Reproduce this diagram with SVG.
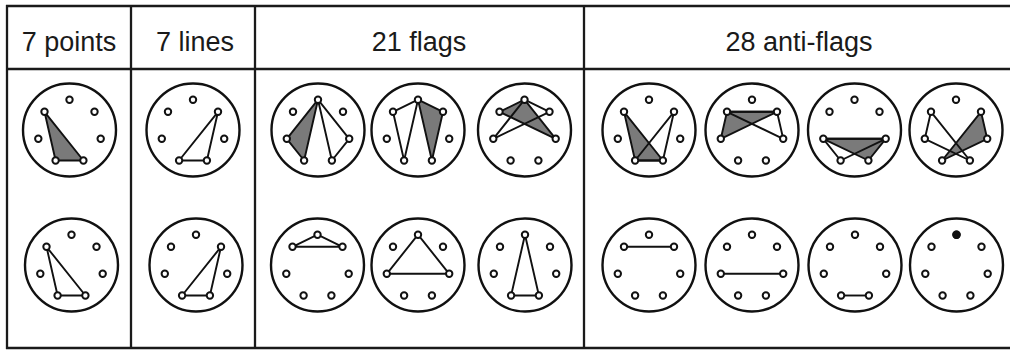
<svg xmlns="http://www.w3.org/2000/svg" xmlns:xlink="http://www.w3.org/1999/xlink" width="1010" height="350" viewBox="0 0 1010 350">
<style>
.grid{stroke:#1a1a1a;stroke-width:2.3;fill:none}
.hdr{font-family:"Liberation Sans",Arial,sans-serif;font-size:27px;fill:#1a1a1a;text-anchor:middle}
.ring{fill:#fff;stroke:#111;stroke-width:2.4}
.dot{fill:#fff;stroke:#111;stroke-width:2}
.tri{fill:none;stroke:#111;stroke-width:1.9;stroke-linejoin:round}
.gray{fill:#7a7a7a;stroke:#111;stroke-width:1.9;stroke-linejoin:round}
</style>
<defs>
<circle id="ring" class="ring" cx="0" cy="0" r="46.5"/>
<g id="dots">
<circle class="dot" cx="0" cy="-30.3" r="3.2"/>
<circle class="dot" cx="25" cy="-18.2" r="3.2"/>
<circle class="dot" cx="31.2" cy="8.8" r="3.2"/>
<circle class="dot" cx="13.9" cy="30.5" r="3.2"/>
<circle class="dot" cx="-13.9" cy="30.5" r="3.2"/>
<circle class="dot" cx="-31.2" cy="8.8" r="3.2"/>
<circle class="dot" cx="-25" cy="-18.2" r="3.2"/>
</g>
</defs>
<rect width="1010" height="350" fill="#fff"/>
<g id="grid" class="grid">
<line x1="6" y1="6" x2="1010" y2="6"/>
<line x1="6" y1="69" x2="1010" y2="69"/>
<line x1="6" y1="348" x2="1010" y2="348"/>
<line x1="7" y1="5" x2="7" y2="349"/>
<line x1="131" y1="5" x2="131" y2="349"/>
<line x1="255" y1="5" x2="255" y2="349"/>
<line x1="584" y1="5" x2="584" y2="349"/>
</g>
<g id="headers">
<text class="hdr" x="69" y="51">7 points</text>
<text class="hdr" x="195" y="51">7 lines</text>
<text class="hdr" x="419" y="51">21 flags</text>
<text class="hdr" x="799" y="51">28 anti-flags</text>
</g>
<g id="connectors"></g>
<g id="point-1" transform="translate(69.5,130)">
<use xlink:href="#ring"/>
<polygon class="gray" points="-25,-18.2 -13.9,30.5 13.9,30.5"/>
<use xlink:href="#dots"/>
</g>
<g id="point-2" transform="translate(71.5,265)">
<use xlink:href="#ring"/>
<polygon class="tri" points="-25,-18.2 -13.9,30.5 13.9,30.5"/>
<use xlink:href="#dots"/>
</g>
<g id="line-1" transform="translate(193,130)">
<use xlink:href="#ring"/>
<polygon class="tri" points="25,-18.2 -13.9,30.5 13.9,30.5"/>
<use xlink:href="#dots"/>
</g>
<g id="line-2" transform="translate(196,265)">
<use xlink:href="#ring"/>
<polygon class="tri" points="25,-18.2 -13.9,30.5 13.9,30.5"/>
<use xlink:href="#dots"/>
</g>
<g id="flag-1" transform="translate(318,130)">
<use xlink:href="#ring"/>
<polygon class="gray" points="0,-30.3 -31.2,8.8 -13.9,30.5"/>
<polygon class="tri" points="0,-30.3 31.2,8.8 13.9,30.5"/>
<use xlink:href="#dots"/>
</g>
<g id="flag-2" transform="translate(418,130)">
<use xlink:href="#ring"/>
<polygon class="gray" points="0,-30.3 25,-18.2 13.9,30.5"/>
<polygon class="tri" points="-25,-18.2 0,-30.3 -13.9,30.5"/>
<use xlink:href="#dots"/>
</g>
<g id="flag-3" transform="translate(524.5,130)">
<use xlink:href="#ring"/>
<polygon class="gray" points="-25,-18.2 0,-30.3 31.2,8.8"/>
<polygon class="tri" points="-31.2,8.8 0,-30.3 25,-18.2"/>
<use xlink:href="#dots"/>
</g>
<g id="flag-4" transform="translate(317.5,265)">
<use xlink:href="#ring"/>
<polygon class="tri" points="-25,-18.2 0,-30.3 25,-18.2"/>
<use xlink:href="#dots"/>
</g>
<g id="flag-5" transform="translate(418,265)">
<use xlink:href="#ring"/>
<polygon class="tri" points="0,-30.3 -31.2,8.8 31.2,8.8"/>
<use xlink:href="#dots"/>
</g>
<g id="flag-6" transform="translate(525,265)">
<use xlink:href="#ring"/>
<polygon class="tri" points="0,-30.3 -13.9,30.5 13.9,30.5"/>
<use xlink:href="#dots"/>
</g>
<g id="antiflag-1" transform="translate(649,130)">
<use xlink:href="#ring"/>
<polygon class="gray" points="-25,-18.2 -13.9,30.5 13.9,30.5"/>
<polygon class="tri" points="25,-18.2 -13.9,30.5 13.9,30.5"/>
<use xlink:href="#dots"/>
</g>
<g id="antiflag-2" transform="translate(752,130)">
<use xlink:href="#ring"/>
<polygon class="gray" points="-25,-18.2 25,-18.2 -31.2,8.8"/>
<polygon class="tri" points="-25,-18.2 25,-18.2 31.2,8.8"/>
<use xlink:href="#dots"/>
</g>
<g id="antiflag-3" transform="translate(854.5,130)">
<use xlink:href="#ring"/>
<polygon class="gray" points="-31.2,8.8 31.2,8.8 13.9,30.5"/>
<polygon class="tri" points="-31.2,8.8 31.2,8.8 -13.9,30.5"/>
<use xlink:href="#dots"/>
</g>
<g id="antiflag-4" transform="translate(956,130)">
<use xlink:href="#ring"/>
<polygon class="gray" points="25,-18.2 31.2,8.8 -13.9,30.5"/>
<polygon class="tri" points="-25,-18.2 -31.2,8.8 13.9,30.5"/>
<use xlink:href="#dots"/>
</g>
<g id="antiflag-5" transform="translate(649,265)">
<use xlink:href="#ring"/>
<line class="tri" x1="-25" y1="-18.2" x2="25" y2="-18.2"/>
<use xlink:href="#dots"/>
</g>
<g id="antiflag-6" transform="translate(752,265)">
<use xlink:href="#ring"/>
<line class="tri" x1="-31.2" y1="8.8" x2="31.2" y2="8.8"/>
<use xlink:href="#dots"/>
</g>
<g id="antiflag-7" transform="translate(855,265)">
<use xlink:href="#ring"/>
<line class="tri" x1="-13.9" y1="30.5" x2="13.9" y2="30.5"/>
<use xlink:href="#dots"/>
</g>
<g id="antiflag-8" transform="translate(956.5,265)">
<use xlink:href="#ring"/>
<use xlink:href="#dots"/>
<circle cx="0" cy="-30.3" r="4.2" fill="#111"/>
</g>
</svg>
